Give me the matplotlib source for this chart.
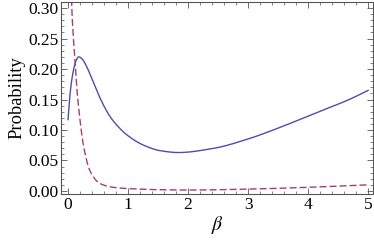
import matplotlib
matplotlib.use("Agg")
import matplotlib.pyplot as plt
import numpy as np
from matplotlib.ticker import MultipleLocator, FormatStrFormatter

# Solid curve samples (beta, probability)
solid_x = [0.0, 0.04, 0.09, 0.135, 0.18, 0.24, 0.31, 0.42, 0.535, 0.70, 0.84, 0.98, 1.26, 1.54, 1.84, 2.43, 2.99, 3.55, 4.10, 4.66, 5.0]
solid_y = [0.117, 0.165, 0.198, 0.214, 0.220, 0.216, 0.204, 0.179, 0.152, 0.122, 0.105, 0.092, 0.075, 0.066, 0.063, 0.070, 0.085, 0.105, 0.127, 0.149, 0.165]

# Dashed curve samples
dash_x = [0.04, 0.06, 0.09, 0.12, 0.145, 0.20, 0.26, 0.37, 0.535, 0.75, 0.98, 1.54, 2.0, 3.0, 4.0, 5.0]
dash_y = [0.45, 0.31, 0.25, 0.209, 0.171, 0.116, 0.073, 0.032, 0.012, 0.006, 0.004, 0.002, 0.0015, 0.003, 0.006, 0.010]

plt.rcParams['font.family'] = ['Liberation Serif', 'DejaVu Serif']
plt.rcParams['mathtext.fontset'] = 'stix'

fig = plt.figure(figsize=(3.74, 2.41), dpi=100)
ax = fig.add_axes([61/374, 1-194/241, (373-61)/374, (194-2)/241])

def smooth(xs, ys, n=500):
    xs = np.array(xs, float); ys = np.array(ys, float)
    t = np.linspace(xs[0], xs[-1], n)
    h = np.diff(xs); d = np.diff(ys)/h
    m = np.zeros_like(xs)
    m[0] = d[0]; m[-1] = d[-1]
    for i in range(1, len(xs)-1):
        if d[i-1]*d[i] <= 0:
            m[i] = 0
        else:
            w1 = 2*h[i]+h[i-1]; w2 = h[i]+2*h[i-1]
            m[i] = (w1+w2)/(w1/d[i-1]+w2/d[i])
    out = np.empty_like(t)
    idx = np.clip(np.searchsorted(xs, t)-1, 0, len(xs)-2)
    for j, (tt, k) in enumerate(zip(t, idx)):
        s = (tt-xs[k])/h[k]
        h00 = 2*s**3-3*s**2+1; h10 = s**3-2*s**2+s
        h01 = -2*s**3+3*s**2; h11 = s**3-s**2
        out[j] = h00*ys[k]+h10*h[k]*m[k]+h01*ys[k+1]+h11*h[k]*m[k+1]
    return t, out

sx, sy = smooth(solid_x, solid_y)
dx, dy = smooth(dash_x, dash_y)

ax.plot(sx, sy, color=(0.3, 0.3, 0.68), lw=1.0)
ax.plot(dx, dy, color=(0.62, 0.25, 0.47), lw=1.0, ls=(0, (5, 2.2)))

ax.set_xlim(-0.117, 5.08)
ax.set_ylim(-0.005, 0.31)

ax.xaxis.set_major_locator(MultipleLocator(1))
ax.xaxis.set_minor_locator(MultipleLocator(0.2))
ax.yaxis.set_major_locator(MultipleLocator(0.05))
ax.yaxis.set_minor_locator(MultipleLocator(0.01))
ax.yaxis.set_major_formatter(FormatStrFormatter('%.2f'))

ax.tick_params(which='both', direction='in', top=True, right=True, color='#555555',
               labelsize=12.5, pad=2)
ax.tick_params(which='major', length=4, width=0.6)
ax.tick_params(which='minor', length=2, width=0.5)
for s in ax.spines.values():
    s.set_color('#555555')
    s.set_linewidth(0.8)

ax.set_xlabel(r'$\beta$', fontsize=14, labelpad=1)
ax.set_ylabel('Probability', fontsize=13.3, labelpad=2)

fig.savefig('out.png', dpi=100)
